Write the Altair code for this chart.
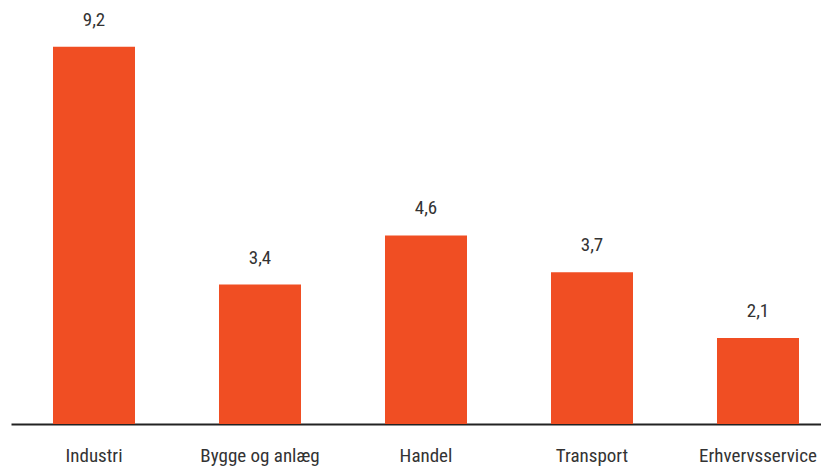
import altair as alt
import pandas as pd

categories = ["Industri", "Bygge og anlæg", "Handel", "Transport", "Erhvervsservice"]
values = [9.2, 3.4, 4.6, 3.7, 2.1]
labels = ["9,2", "3,4", "4,6", "3,7", "2,1"]

df = pd.DataFrame({"cat": categories, "val": values, "lab": labels})

FONT = "'Liberation Sans Narrow', 'Arial Narrow', 'Roboto Condensed', 'DejaVu Sans Condensed', Roboto, sans-serif"

x = alt.X("cat:N", sort=categories, title=None,
          scale=alt.Scale(range=[0, 830], paddingInner=0.506, paddingOuter=0.253),
          axis=alt.Axis(labelAngle=0, ticks=False, domainColor="#222222", domainWidth=2,
                        labelFont=FONT, labelFontSize=19, labelFontWeight="normal",
                        labelColor="#333333", labelPadding=22))
y = alt.Y("val:Q", scale=alt.Scale(domain=[0, 10], nice=False), axis=None)

bars = alt.Chart(df).mark_bar(color="#F04E23").encode(x=x, y=y)
text = alt.Chart(df).mark_text(dy=-17, font=FONT, fontSize=19, fontWeight="normal",
                               color="#333333", baseline="bottom").encode(x=x, y=y, text="lab:N")

chart = (bars + text).properties(
    width=810, height=410,
    autosize=alt.AutoSizeParams(type="none"),
    padding={"left": 3, "top": 6, "right": 0, "bottom": 50},
).configure_view(stroke=None)

chart.save("out.html", embed_options={"renderer": "svg", "actions": False})
